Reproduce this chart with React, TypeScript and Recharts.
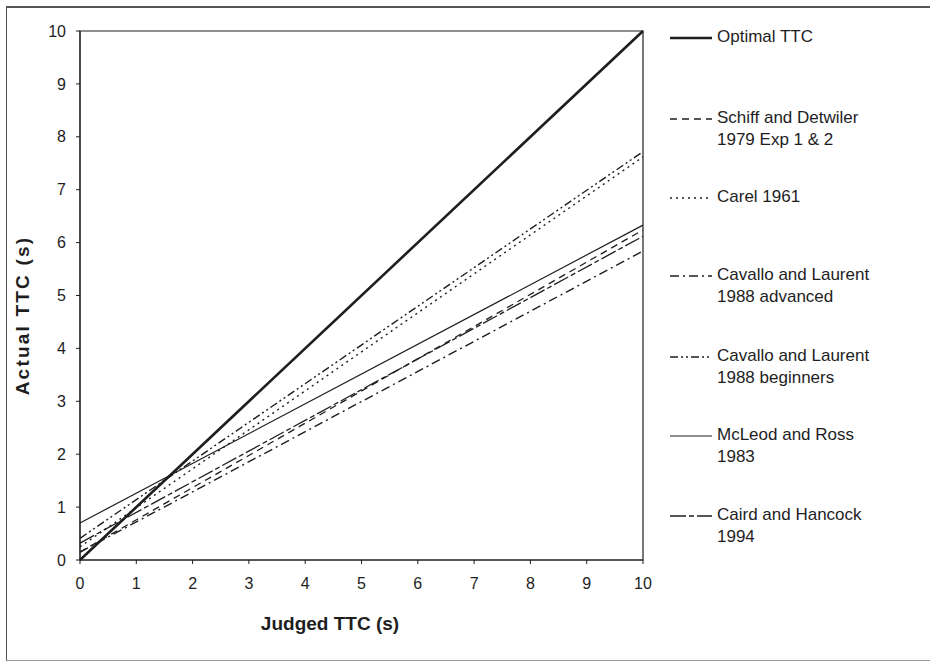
import React from "react";
import {
  Line,
  LineChart,
  ReferenceArea,
  XAxis,
  YAxis,
} from "recharts";

// judged TTC at the two ends of every fitted line
const judged = [0, 10];
const ticks = [0, 1, 2, 3, 4, 5, 6, 7, 8, 9, 10];

// actual TTC at judged = 0 and judged = 10
const optimal = [0, 10];
const schiff = [0.15, 6.24];
const carel = [0.25, 7.62];
const cavalloAdv = [0.15, 5.84];
const cavalloBeg = [0.41, 7.72];
const mcleod = [0.7, 6.33];
const caird = [0.32, 6.12];

const FONT = '"Liberation Sans", Arial, sans-serif';
const INK = "#1e1e1e";

const series = [
  { key: "optimal", name: ["Optimal TTC"], values: optimal, width: 2.6, dash: undefined, top: 26 },
  { key: "schiff", name: ["Schiff and Detwiler", "1979 Exp 1 & 2"], values: schiff, width: 1.3, dash: "7 5", top: 107 },
  { key: "carel", name: ["Carel 1961"], values: carel, width: 1.4, dash: "2 4", top: 186 },
  { key: "cavalloAdv", name: ["Cavallo and Laurent", "1988 advanced"], values: cavalloAdv, width: 1.4, dash: "9 4 2 4", top: 264 },
  { key: "cavalloBeg", name: ["Cavallo and Laurent", "1988 beginners"], values: cavalloBeg, width: 1.4, dash: "8 3 2 3 2 3", top: 345 },
  { key: "mcleod", name: ["McLeod and Ross", "1983"], values: mcleod, width: 1.2, dash: undefined, top: 424 },
  { key: "caird", name: ["Caird and Hancock", "1994"], values: caird, width: 1.3, dash: "16 3 5 3", top: 504 },
];

const data = judged.map((x, i) => {
  const row: Record<string, number> = { x };
  series.forEach((s) => {
    row[s.key] = s.values[i];
  });
  return row;
});

function LegendBox() {
  return (
    <div style={{ position: "absolute", left: 668, top: 0, width: 262, height: 600, fontFamily: FONT }}>
      {series.map((s) => (
        <div key={s.key} style={{ position: "absolute", left: 0, top: s.top }}>
          <svg width={44} height={22} style={{ position: "absolute", left: 0, top: 0 }}>
            <line
              x1={2}
              x2={44}
              y1={12}
              y2={12}
              stroke={INK}
              strokeWidth={s.width}
              strokeDasharray={s.dash}
            />
          </svg>
          <div
            style={{
              position: "absolute",
              left: 49,
              top: 0,
              fontSize: 17,
              lineHeight: "22px",
              color: INK,
              whiteSpace: "nowrap",
            }}
          >
            {s.name.map((t) => (
              <div key={t}>{t}</div>
            ))}
          </div>
        </div>
      ))}
    </div>
  );
}

function XTitle(props: any) {
  const vb = props.viewBox;
  return (
    <text
      x={vb.x + 250}
      y={vb.y + 70}
      textAnchor="middle"
      fill={INK}
      fontSize={19}
      fontWeight="bold"
      fontFamily={FONT}
    >
      Judged TTC (s)
    </text>
  );
}

function YTitle(props: any) {
  const vb = props.viewBox;
  const cx = vb.x - 18;
  const cy = vb.y + vb.height / 2 + 20;
  return (
    <text
      x={cx}
      y={cy}
      transform={`rotate(-90 ${cx} ${cy})`}
      textAnchor="middle"
      dominantBaseline="central"
      fill={INK}
      fontSize={19}
      fontWeight="bold"
      fontFamily={FONT}
      letterSpacing={2.2}
    >
      Actual TTC (s)
    </text>
  );
}

export default function App() {
  return (
    <div
      style={{
        position: "absolute",
        left: 0,
        top: 0,
        width: 930,
        height: 667,
        background: "#fff",
        overflow: "hidden",
      }}
    >
      <div
        style={{
          position: "absolute",
          left: 6,
          top: 6,
          width: 940,
          height: 652,
          borderTop: "2px solid #555",
          borderLeft: "1.5px solid #555",
          borderBottom: "1.5px solid #999",
        }}
      />
      <LineChart
        width={930}
        height={667}
        data={data}
        margin={{ top: 31, right: 287, bottom: 77, left: 40 }}
        style={{ position: "absolute", left: 0, top: 0 }}
      >
        <XAxis
          dataKey="x"
          type="number"
          domain={[0, 10]}
          ticks={ticks}
          height={30}
          stroke={INK}
          tickSize={4}
          tickMargin={14}
          tick={{ fill: INK, fontSize: 16, fontFamily: FONT }}
          label={{ content: (p: any) => <XTitle {...p} /> }}
        />
        <YAxis
          type="number"
          domain={[0, 10]}
          ticks={ticks}
          width={40}
          stroke={INK}
          tickSize={4}
          tickMargin={10}
          tick={{ fill: INK, fontSize: 16, fontFamily: FONT }}
          label={{ content: (p: any) => <YTitle {...p} /> }}
        />
        <ReferenceArea
          x1={0}
          x2={10}
          y1={0}
          y2={10}
          fill="none"
          stroke={INK}
          strokeWidth={1.2}
        />
        {series.map((s) => (
          <Line
            key={s.key}
            dataKey={s.key}
            name={s.name.join(" ")}
            type="linear"
            stroke={INK}
            strokeWidth={s.width}
            strokeDasharray={s.dash}
            dot={false}
            activeDot={false}
            isAnimationActive={false}
          />
        ))}
      </LineChart>
      <LegendBox />
    </div>
  );
}
